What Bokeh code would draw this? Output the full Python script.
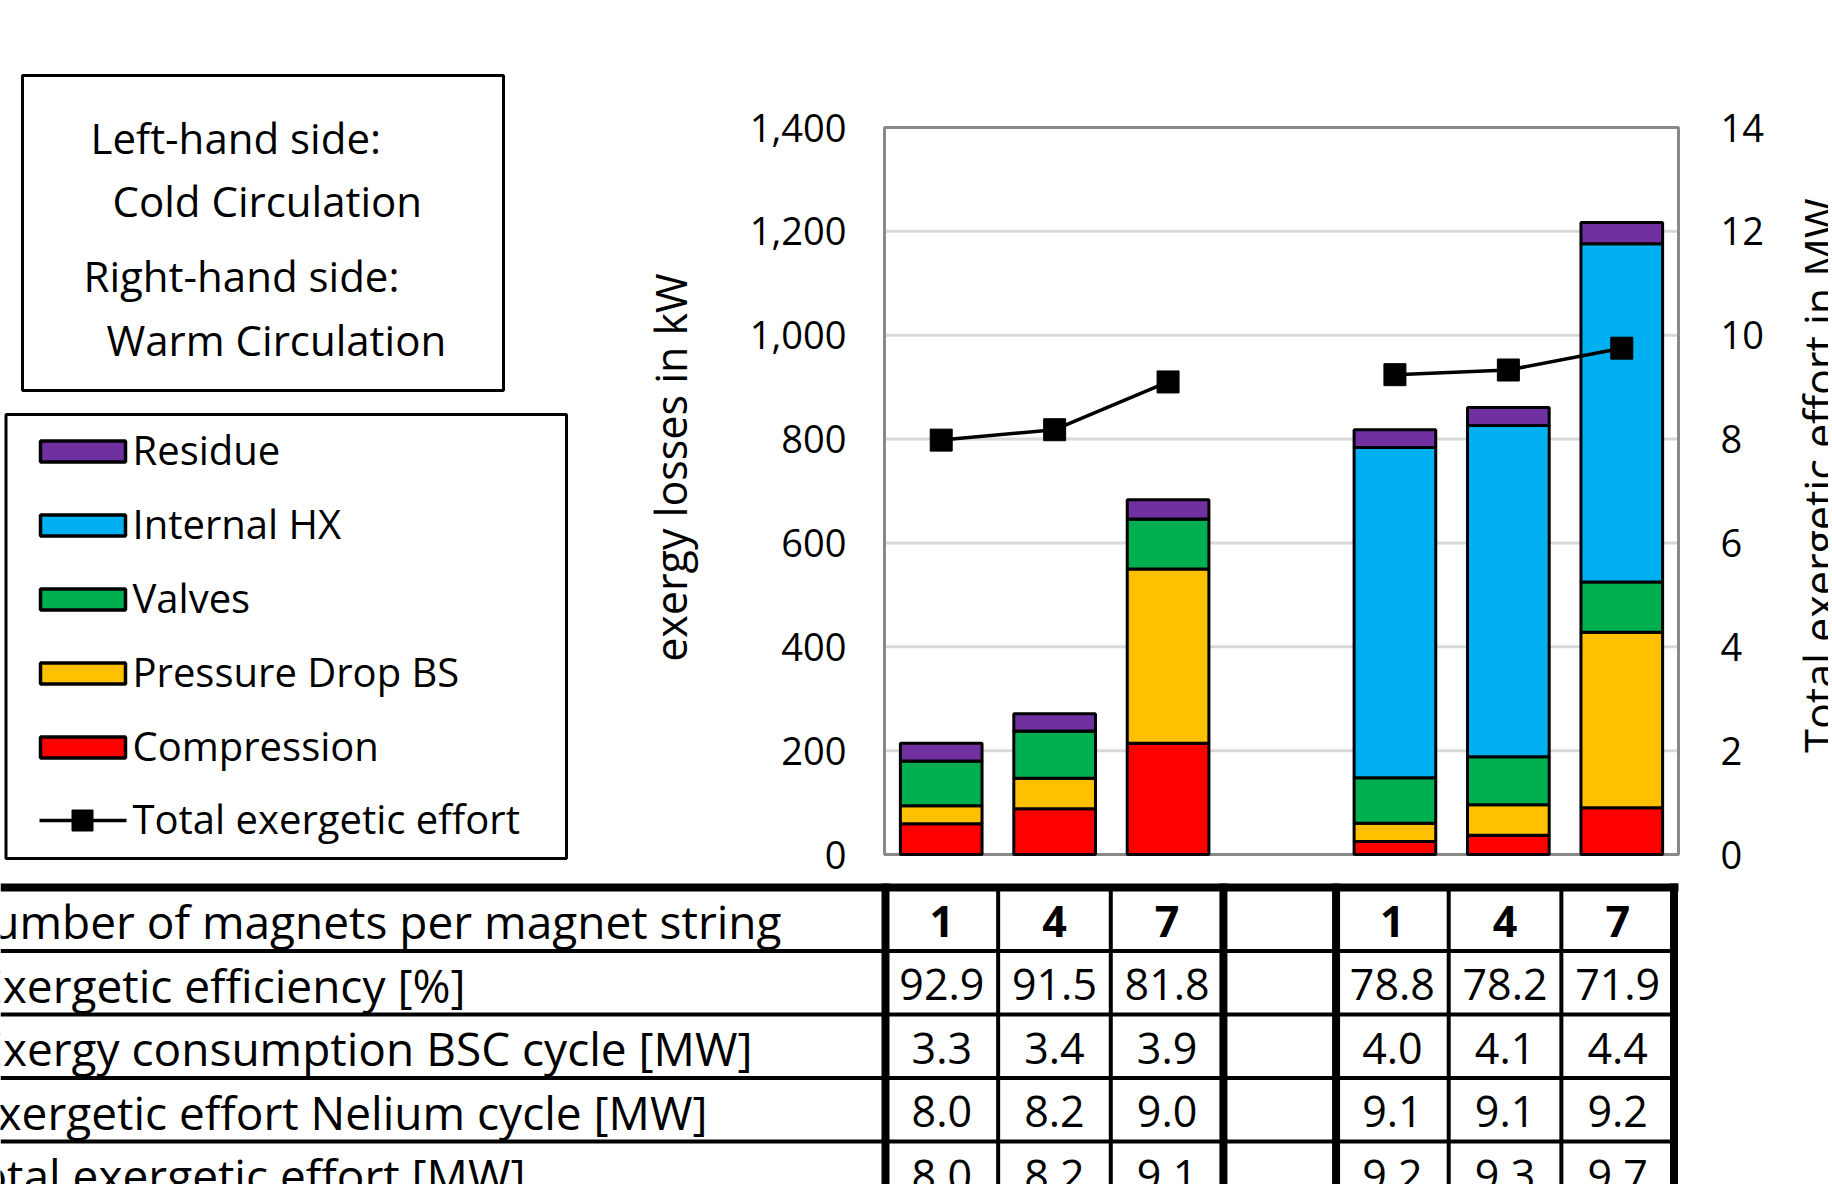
import math
from bokeh.plotting import figure
from bokeh.models import (Range1d, LinearAxis, FixedTicker, NumeralTickFormatter,
                          ColumnDataSource)
from bokeh.embed import file_html
from bokeh.resources import INLINE
from bokeh.core.properties import value

# ---------------- data ----------------
slots = ["Cold 1", "Cold 4", "Cold 7", "gap", "Warm 1", "Warm 4", "Warm 7"]
bar_cats = ["Cold 1", "Cold 4", "Cold 7", "Warm 1", "Warm 4", "Warm 7"]
magnets = ["1", "4", "7", "1", "4", "7"]

compression = [59, 88, 214, 25, 37, 90]
pressure_drop_bs = [35, 59, 336, 35, 59, 338]
valves = [86, 91, 96, 88, 92, 97]
internal_hx = [0, 0, 0, 636, 638, 651]
residue = [34, 33, 37, 34, 35, 41]

cold_cats = ["Cold 1", "Cold 4", "Cold 7"]
warm_cats = ["Warm 1", "Warm 4", "Warm 7"]
cold_total_effort = [7.98, 8.18, 9.10]
warm_total_effort = [9.24, 9.33, 9.75]

series_keys = ["comp", "pdbs", "valves", "ihx", "resid"]
series_names = ["Compression", "Pressure Drop BS", "Valves", "Internal HX", "Residue"]
series_colors = ["#FF0000", "#FFC000", "#00B050", "#00B0F0", "#7030A0"]
line_name = "Total exergetic effort"

left_ticks = [0, 200, 400, 600, 800, 1000, 1200, 1400]
grid_ticks = [200, 400, 600, 800, 1000, 1200]
right_ticks = [0, 2, 4, 6, 8, 10, 12, 14]
left_title = "exergy losses in kW"
right_title = "Total exergetic effort in MW"

info_lines = ["Left-hand side:", "Cold Circulation", "Right-hand side:", "Warm Circulation"]

row_labels = ["Number of magnets per magnet string",
              "Exergetic efficiency [%]",
              "Exergy consumption BSC cycle [MW]",
              "Exergetic effort Nelium cycle [MW]",
              "Total exergetic effort [MW]"]
exergetic_efficiency = [92.9, 91.5, 81.8, 78.8, 78.2, 71.9]
bsc_consumption = [3.3, 3.4, 3.9, 4.0, 4.1, 4.4]
nelium_effort = [8.0, 8.2, 9.0, 9.1, 9.1, 9.2]
total_effort_table = [8.0, 8.2, 9.1, 9.2, 9.3, 9.7]

# ---------------- layout constants (page px) ----------------
FONT = "Open Sans"
W, H = 1828, 1184
FRAME_L, FRAME_R, FRAME_T, FRAME_B = 884, 1678, 127, 854
Y_MAX = 1400
BS = 15  # baseline correction for alphabetic text
n = len(slots)
slot_px = (FRAME_R - FRAME_L) / n
ppu = (FRAME_B - FRAME_T) / Y_MAX
x_start = -0.5 - FRAME_L / slot_px
x_end = n - 0.5 + (W - FRAME_R) / slot_px
y_start = -(H - FRAME_B) / ppu
y_end = Y_MAX + FRAME_T / ppu

p = figure(width=W, height=H, x_range=Range1d(x_start, x_end),
           y_range=Range1d(y_start, y_end), output_backend="svg",
           toolbar_location=None, x_axis_location=None, y_axis_location=None,
           min_border=0)
p.outline_line_color = None
p.grid.visible = False
p.background_fill_color = "white"
p.border_fill_color = "white"
p.extra_x_ranges = {"px": Range1d(0, W)}
p.extra_y_ranges = {"px": Range1d(H, 0), "mw": Range1d(y_start / 100, y_end / 100)}
PX = dict(x_range_name="px", y_range_name="px")

# ---------------- chart ----------------
p.segment(x0=[-0.5] * len(grid_ticks), y0=grid_ticks, x1=[n - 0.5] * len(grid_ticks),
          y1=grid_ticks, line_color="#d9d9d9", line_width=3)
p.quad(left=[-0.5], right=[n - 0.5], bottom=[0], top=[Y_MAX], fill_color=None,
       line_color="#898989", line_width=3)

ly = LinearAxis(ticker=FixedTicker(ticks=left_ticks),
                formatter=NumeralTickFormatter(format="0,0"), fixed_location=-0.5)
p.add_layout(ly, "left")
ry = LinearAxis(y_range_name="mw", ticker=FixedTicker(ticks=right_ticks),
                fixed_location=n - 0.5)
p.add_layout(ry, "right")
for ax, st in ((ly, 38), (ry, 42)):
    ax.axis_line_color = None
    ax.major_tick_line_color = None
    ax.minor_tick_line_color = None
    ax.major_tick_in = 0
    ax.major_tick_out = 0
    ax.major_label_standoff = st
    ax.major_label_text_font = FONT
    ax.major_label_text_font_size = "38px"
    ax.major_label_text_color = "black"

src = ColumnDataSource(dict(x=[slots.index(c) for c in bar_cats], comp=compression,
                            pdbs=pressure_drop_bs, valves=valves, ihx=internal_hx,
                            resid=residue))
p.vbar_stack(series_keys, x="x", width=0.72, source=src,
             fill_color=series_colors, line_color="black", line_width=3)

for cats, vals in ((cold_cats, cold_total_effort), (warm_cats, warm_total_effort)):
    xs = [slots.index(c) for c in cats]
    p.line(xs, vals, y_range_name="mw", line_color="black", line_width=3.5)
    p.scatter(xs, vals, y_range_name="mw", marker="square", size=22,
              fill_color="black", line_color="black")

p.text(x=[670], y=[467], text=[left_title], angle=math.pi / 2,
       text_font=value(FONT), text_font_size="43px", text_color="black",
       text_align="center", text_baseline="middle", **PX)
p.text(x=[1819], y=[475], text=[right_title], angle=math.pi / 2,
       text_font=value(FONT), text_font_size="43px", text_color="black",
       text_align="center", text_baseline="middle", **PX)

# ---------------- info box + legend ----------------
p.quad(left=[22], right=[503], top=[75], bottom=[390], fill_color=None,
       line_color="black", line_width=3, **PX)
p.text(x=[90, 112, 83, 106], y=[152 - BS, 215 - BS, 290 - BS, 354 - BS], text=info_lines,
       text_font=value(FONT), text_font_size="42px", text_color="black",
       text_align="left", text_baseline="alphabetic", **PX)

p.quad(left=[5.5], right=[566], top=[414], bottom=[858], fill_color=None,
       line_color="black", line_width=3, **PX)
row_y = [451, 525, 599, 673, 747, 820]
p.quad(left=[40] * 5, right=[125] * 5,
       top=[y - 10.5 for y in row_y[:5]], bottom=[y + 10.5 for y in row_y[:5]],
       fill_color=series_colors[::-1], line_color="black", line_width=3.5, **PX)
p.line([39, 126], [row_y[5], row_y[5]], line_color="black", line_width=3.5, **PX)
p.scatter([82], [row_y[5]], marker="square", size=21, fill_color="black",
          line_color="black", **PX)
p.text(x=[132] * 6, y=[y + 13 - BS for y in row_y], text=series_names[::-1] + [line_name],
       text_font=value(FONT), text_font_size="40px", text_color="black",
       text_align="left", text_baseline="alphabetic", **PX)

# ---------------- table ----------------
T_LEFT, T_RIGHT = 885, 1673.5
T_COL = (T_RIGHT - T_LEFT) / n
T_TOP, ROW_H = 887, 63.5
row_tops = [T_TOP + i * ROW_H for i in range(5)]

p.segment(x0=[0], y0=[T_TOP], x1=[1678], y1=[T_TOP], line_color="black",
          line_width=8, **PX)
p.segment(x0=[0] * 4, y0=row_tops[1:], x1=[T_RIGHT] * 4, y1=row_tops[1:],
          line_color="black", line_width=4, **PX)
thick = [0, 3, 4, 7]
thin = [1, 2, 5, 6]
p.segment(x0=[T_LEFT + k * T_COL for k in thick], y0=[T_TOP - 4] * 4,
          x1=[T_LEFT + k * T_COL for k in thick], y1=[H + 20] * 4,
          line_color="black", line_width=8, **PX)
p.segment(x0=[T_LEFT + k * T_COL for k in thin], y0=[T_TOP] * 4,
          x1=[T_LEFT + k * T_COL for k in thin], y1=[H + 20] * 4,
          line_color="black", line_width=4, **PX)

base_off = ROW_H / 2 + 17 - BS
label_ends = [781, 465, 752, 707, 525]
p.text(x=label_ends, y=[t + base_off for t in row_tops], text=row_labels,
       text_font=value(FONT), text_font_size="46px", text_color="black",
       text_align="right", text_baseline="alphabetic", **PX)

col_x = [T_LEFT + (slots.index(c) + 0.5) * T_COL for c in bar_cats]
p.text(x=col_x, y=[row_tops[0] + base_off] * 6, text=magnets,
       text_font=value(FONT), text_font_size="43px", text_font_style="bold",
       text_color="black", text_align="center", text_baseline="alphabetic", **PX)
cell_x, cell_y, cell_t = [], [], []
for r, vals in enumerate([exergetic_efficiency, bsc_consumption, nelium_effort,
                          total_effort_table], start=1):
    for xx, v in zip(col_x, vals):
        cell_x.append(xx)
        cell_y.append(row_tops[r] + base_off)
        cell_t.append(f"{v:.1f}")
p.text(x=cell_x, y=cell_y, text=cell_t, text_font=value(FONT),
       text_font_size="43px", text_color="black", text_align="center",
       text_baseline="alphabetic", **PX)

open("out.html", "w").write(file_html(p, INLINE))
